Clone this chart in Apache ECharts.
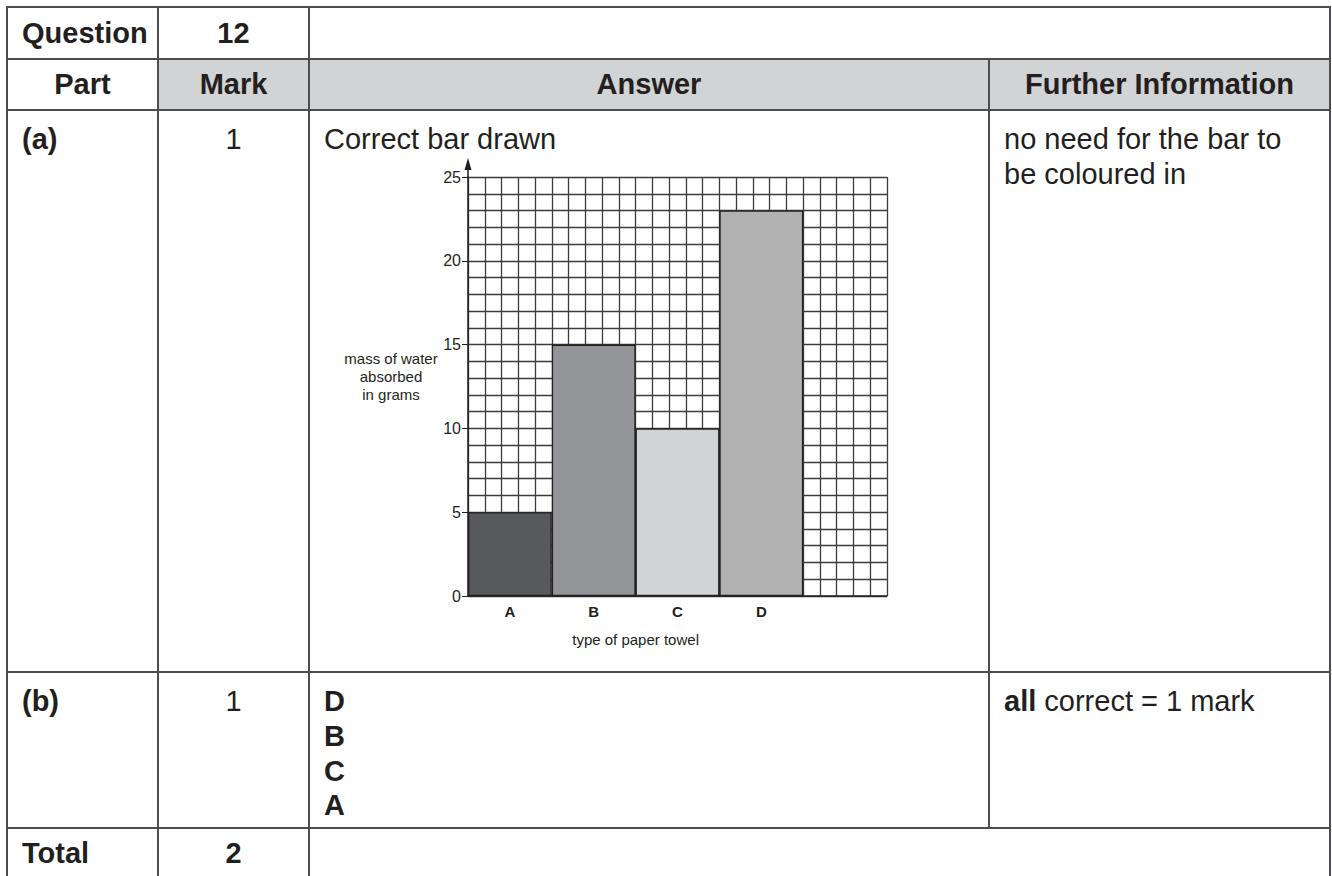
<!DOCTYPE html>
<html>
<head>
<meta charset="utf-8">
<title>Question 12</title>
<script src="https://cdn.jsdelivr.net/npm/echarts@6/dist/echarts.min.js"></script>
<style>
html, body { margin: 0; padding: 0; background: #fff; }
body {
    width: 1332px; height: 876px; overflow: hidden; position: relative;
    font-family: 'Liberation Sans', Arial, Helvetica, sans-serif; color: #231f20;
}
table.ms {
    position: absolute; left: 6px; top: 6px; width: 1325px;
    border-collapse: collapse; table-layout: fixed; font-size: 29px;
}
table.ms td {
    border: 2px solid #4d4d4f; padding: 0 14px; line-height: 1.2;
    vertical-align: middle; overflow: hidden;
}
table.ms td.b { font-weight: bold; }
table.ms td.c { text-align: center; }
table.ms td.hd { background: #d1d3d4; }
table.ms tr.body td { vertical-align: top; padding-top: 11px; }
table.ms tr.tot td { vertical-align: top; padding-top: 7px; }
#chart { position: absolute; left: 311px; top: 150px; width: 676px; height: 515px; z-index: 1; }
</style>
</head>
<body>
<table class="ms">
    <colgroup>
        <col style="width:151px"><col style="width:151px"><col style="width:680px"><col style="width:341px">
    </colgroup>
    <tr style="height:52px">
        <td class="b c">Question</td>
        <td class="b c">12</td>
        <td colspan="2"></td>
    </tr>
    <tr style="height:51px">
        <td class="b c">Part</td>
        <td class="b c hd">Mark</td>
        <td class="b c hd">Answer</td>
        <td class="b c hd">Further Information</td>
    </tr>
    <tr class="body" style="height:562px">
        <td class="b">(a)</td>
        <td class="c">1</td>
        <td>Correct bar drawn</td>
        <td>no need for the bar to<br>be coloured in</td>
    </tr>
    <tr class="body" style="height:156px">
        <td class="b">(b)</td>
        <td class="c">1</td>
        <td class="b">D<br>B<br>C<br>A</td>
        <td><b>all</b> correct = 1 mark</td>
    </tr>
    <tr class="tot" style="height:70px">
        <td class="b">Total</td>
        <td class="b c">2</td>
        <td colspan="2"></td>
    </tr>
</table>
<div id="chart"></div>
<script>
// data
const towelTypes = ['A', 'B', 'C', 'D', ''];
const massAbsorbed = [5, 15, 10, 23];
const yTickStep = 5;
const yMax = 25;

const towelShades = ['#58595b', '#939598', '#d1d3d4', '#b2b1b2'];
const ink = '#231f20';
const gridInk = '#3c3c3c';
const fontFamily = 'Liberation Sans, Arial, sans-serif';

const chart = echarts.init(document.getElementById('chart'), null, { renderer: 'svg' });

const option = {
    animation: false,
    grid: { left: 157, top: 27, width: 419, height: 419 },
    xAxis: [{
        type: 'category',
        data: towelTypes,
        boundaryGap: true,
        axisLine: { show: true, lineStyle: { color: ink, width: 1.5 } },
        axisTick: { show: false },
        axisLabel: { color: ink, fontSize: 15, fontWeight: 'bold', fontFamily: fontFamily, margin: 8 },
        splitLine: { show: false }
    }, {
        type: 'value',
        position: 'bottom',
        min: 0,
        max: yMax,
        interval: 1, // one square per unit
        axisLine: { show: false },
        axisTick: { show: false },
        axisLabel: { show: false },
        splitLine: { show: true, lineStyle: { color: gridInk, width: 1.3 } }
    }],
    yAxis: [{
        type: 'value',
        position: 'left',
        min: 0,
        max: yMax,
        interval: 1,
        axisLine: { show: false },
        axisTick: { show: false },
        axisLabel: { show: false },
        splitLine: { show: true, lineStyle: { color: gridInk, width: 1.3 } }
    }, {
        type: 'value',
        position: 'left',
        min: 0,
        max: yMax,
        interval: yTickStep,
        axisLine: { show: true, onZero: false, lineStyle: { color: ink, width: 1.5 } },
        axisTick: { show: true, length: 6, lineStyle: { color: ink, width: 1 } },
        axisLabel: { color: ink, fontSize: 16, fontFamily: fontFamily, margin: 7 },
        splitLine: { show: false }
    }],
    series: [{
        type: 'bar',
        xAxisIndex: 0,
        yAxisIndex: 1,
        barWidth: '100%',
        data: massAbsorbed.map((v, i) => ({ value: v, itemStyle: { color: towelShades[i] } })),
        itemStyle: { borderColor: ink, borderWidth: 1.3 },
        z: 3
    }]
}
chart.setOption(option)

// axis names and arrow on the y axis
const ax = chart.convertToPixel({ xAxisIndex: 1 }, 0)
const ay = chart.convertToPixel({ yAxisIndex: 1 }, yMax)
const ax0 = chart.convertToPixel({ xAxisIndex: 0 }, 'A')
const ax3 = chart.convertToPixel({ xAxisIndex: 0 }, 'D')
const ay0 = chart.convertToPixel({ yAxisIndex: 1 }, 0)
chart.setOption({
    graphic: [{
        type: 'text',
        x: 80, y: 226,
        style: {
            text: 'mass of water\nabsorbed\nin grams',
            fill: ink, font: '15px ' + fontFamily,
            align: 'center', verticalAlign: 'middle', lineHeight: 18
        }
    }, {
        type: 'text',
        x: (ax0 + ax3) / 2, y: ay0 + 43,
        style: {
            text: 'type of paper towel',
            fill: ink, font: '15px ' + fontFamily,
            align: 'center', verticalAlign: 'middle'
        }
    }, {
        type: 'line',
        shape: { x1: ax, y1: ay, x2: ax, y2: ay - 10 },
        style: { stroke: ink, lineWidth: 1.5 }
    }, {
        type: 'polygon',
        shape: { points: [[ax, ay - 19], [ax - 3.5, ay - 7], [ax + 3.5, ay - 7]] },
        style: { fill: ink }
    }]
})
</script>
</body>
</html>
